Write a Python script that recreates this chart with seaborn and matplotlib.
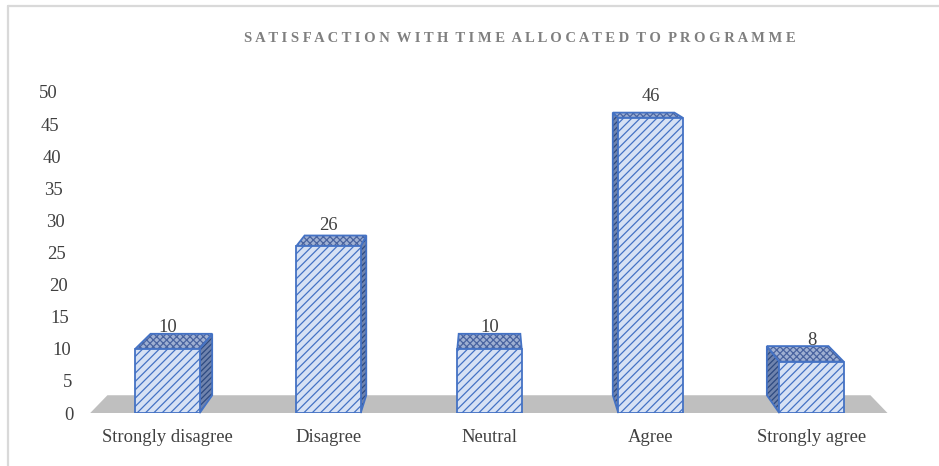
import numpy as np
import pandas as pd
import matplotlib
matplotlib.use("Agg")
import matplotlib.pyplot as plt
from matplotlib.patches import Polygon
from matplotlib.lines import Line2D
import seaborn as sns

# ---- data ----
categories = ["Strongly disagree", "Disagree", "Neutral", "Agree", "Strongly agree"]
values = [10, 26, 10, 46, 8]
yticks = list(range(0, 55, 5))
title = "SATISFACTION WITH TIME ALLOCATED TO PROGRAMME"

# ---- style ----
sns.set_theme(style="white")
plt.rcParams["font.family"] = ["Liberation Serif", "DejaVu Serif"]
plt.rcParams["hatch.linewidth"] = 0.9

FRONT = "#d6e1f4"
EDGE = "#4472c4"
SIDE = "#6f83ad"
SIDE_H = "#2e4a80"
TOP = "#9fb0d2"
TOP_H = "#4a64a0"
FLOOR = "#bfbfbf"
TXT = "#404040"

W, H = 939, 466
fig = plt.figure(figsize=(W / 100, H / 100), dpi=100)
ax = fig.add_axes([87 / W, 53 / H, 805 / W, 321 / H])

df = pd.DataFrame({"cat": categories, "val": values})
sns.barplot(data=df, x="cat", y="val", ax=ax, width=0.4, color=FRONT,
            saturation=1, edgecolor=EDGE, linewidth=1.3, hatch="////", zorder=5)
ax.set_xlim(-0.5, 4.5)
ax.set_ylim(0, 50)
ax.set_yticks(yticks)
ax.set_xlabel("")
ax.set_ylabel("")
for s in ax.spines.values():
    s.set_visible(False)

# ---- perspective helpers (display pixels) ----
VP = np.array([490.0, float(H)])
K = 0.043
to_data = ax.transData.inverted()


def back(p):
    p = np.asarray(p, dtype=float)
    return p + K * (VP - p)


def poly(pts_disp, **kw):
    pts = to_data.transform(np.asarray(pts_disp))
    pg = Polygon(pts, closed=True, clip_on=False, **kw)
    ax.add_patch(pg)
    return pg


# floor
fl = ax.transData.transform((-0.5 + 0.02, 0))
fr = ax.transData.transform((4.5 - 0.028, 0))
poly([fl, fr, back(fr), back(fl)], facecolor=FLOOR, edgecolor="none", zorder=1)

bars = list(ax.patches)[:len(values)]
for b in bars:
    x0, w, h = b.get_x(), b.get_width(), b.get_height()
    fbl = ax.transData.transform((x0, 0))
    fbr = ax.transData.transform((x0 + w, 0))
    ftl = ax.transData.transform((x0, h))
    ftr = ax.transData.transform((x0 + w, h))
    cx = (fbl[0] + fbr[0]) / 2
    if cx < VP[0] - 5:
        side = [fbr, ftr, back(ftr), back(fbr)]
    elif cx > VP[0] + 5:
        side = [fbl, ftl, back(ftl), back(fbl)]
    else:
        side = None
    if side is not None:
        poly(side, facecolor=SIDE, edgecolor=SIDE_H, hatch="//////", lw=0, zorder=3)
        poly(side, fill=False, edgecolor=EDGE, lw=1.3, zorder=3.2)
    topf = [ftl, ftr, back(ftr), back(ftl)]
    poly(topf, facecolor=TOP, edgecolor=TOP_H, hatch="xxxxx", lw=0, zorder=3.5)
    poly(topf, fill=False, edgecolor=EDGE, lw=1.3, zorder=3.7)
    # value label
    ty = ftl[1] + 21
    lx, ly = to_data.transform((cx, ty))
    ax.text(lx, ly, f"{h:g}", ha="center", va="center", fontsize=13.4,
            color=TXT, zorder=6)

# ---- ticks ----
ax.tick_params(axis="x", length=0, pad=11.5, labelsize=13.4, labelcolor=TXT)
ax.tick_params(axis="y", length=0, pad=0, labelsize=13.4, labelcolor=TXT)
for t, v in zip(ax.yaxis.get_major_ticks(), yticks):
    xr = 74 - 0.32 * v
    t.label1.set_x((xr - 87) / 805)

# ---- title & frame ----
spaced = "  ".join(" ".join(word) for word in title.split())
fig.text(520 / W, (H - 38) / H, spaced, ha="center", va="center",
         fontsize=10.55, fontweight="bold", color="#7f7f7f")
fig.add_artist(Line2D([7.5 / W, 7.5 / W], [0, (H - 6) / H],
                      transform=fig.transFigure, color="#d9d9d9", lw=1.6))
fig.add_artist(Line2D([7.5 / W, 1], [(H - 6) / H, (H - 6) / H],
                      transform=fig.transFigure, color="#d9d9d9", lw=1.6))

fig.savefig("out.png", dpi=100)
